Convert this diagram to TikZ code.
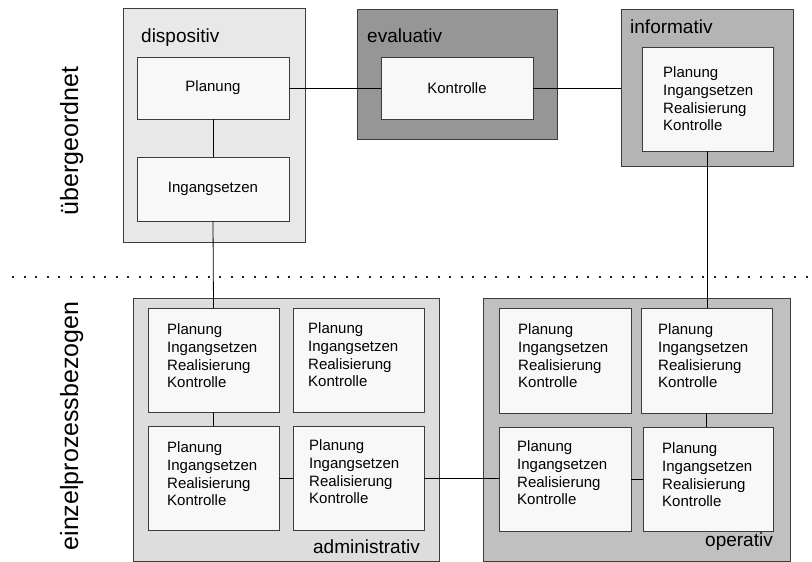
\documentclass[tikz,border=0pt]{standalone}
\usepackage{fontspec}
\setmainfont{Liberation Sans}
\definecolor{edge}{HTML}{3C3C3C}
\definecolor{dotcol}{HTML}{222222}
\definecolor{fillDisp}{HTML}{E8E8E8}
\definecolor{fillEval}{HTML}{969696}
\definecolor{fillInf}{HTML}{B4B4B4}
\definecolor{fillAdm}{HTML}{DDDDDD}
\definecolor{fillOp}{HTML}{C0C0C0}
\definecolor{fillInner}{HTML}{F8F8F8}
\tikzset{
  frame/.style={draw=edge, line width=0.9pt, inner sep=0pt, outer sep=0pt},
  group/.style={frame, fill=#1},
  cell/.style={frame, fill=fillInner},
  grouplabel/.style={font=\fontsize{19}{22}\selectfont, inner sep=0pt},
  sidelabel/.style={font=\fontsize{25}{28}\selectfont, inner sep=0pt, rotate=90, anchor=base},
  steps/.style={font=\fontsize{15}{17.7}\selectfont, align=left, inner sep=0pt, anchor=west},
  single/.style={font=\fontsize{15}{17.7}\selectfont, inner sep=0pt},
  link/.style={draw=black, line width=0.8pt},
}
% \placebox{name}{style}{x1}{y1}{x2}{y2}
\newcommand{\placebox}[6]{%
  \node[#2, minimum width={(#5-#3)*1pt}, minimum height={(#6-#4)*1pt}]
    (#1) at ({(#3+#5)/2},{(#4+#6)/2}) {};}
\newcommand{\fourphases}{Planung\\Ingangsetzen\\Realisierung\\Kontrolle}
\begin{document}
\begin{tikzpicture}[x=1pt,y=-1pt]
\useasboundingbox (0,0) rectangle (812,562);
\fill[white] (0,0) rectangle (812,562);

% level separator
\coordinate (sepL) at (12,276.5);
\coordinate (sepR) at (812,276.5);
\draw[dotcol, line width=2pt, dash pattern=on 2pt off 9.5pt] (sepL) -- (sepR);

% side labels
\node[sidelabel] (lblTop) at (78,141) {übergeordnet};
\node[sidelabel] (lblBot) at (78,426) {einzelprozessbezogen};

% group frames
\placebox{disp}{group=fillDisp}{123}{8}{305}{242}
\placebox{eval}{group=fillEval}{357}{9}{557}{139}
\placebox{inf}{group=fillInf}{621}{9}{793}{166}
\placebox{adm}{group=fillAdm}{133}{298}{439}{561}
\placebox{op}{group=fillOp}{483}{298}{790}{561}

\node[grouplabel, anchor=base west] (tDisp) at (141,42) {dispositiv};
\node[grouplabel, anchor=base west] (tEval) at (367,42) {evaluativ};
\node[grouplabel, anchor=base west] (tInf) at (630,33) {informativ};
\node[grouplabel, anchor=base east] (tAdm) at (420,553) {administrativ};
\node[grouplabel, anchor=base east] (tOp) at (773,546) {operativ};

% cells
\placebox{dPlan}{cell}{137}{57}{289}{119}
\placebox{dIng}{cell}{137}{157}{289}{221}
\placebox{eKon}{cell}{381}{57}{533}{119}
\placebox{iBox}{cell}{642}{47}{773}{151}
\placebox{aTL}{cell}{148}{308}{279}{412}
\placebox{aTR}{cell}{293}{308}{424}{412}
\placebox{aBL}{cell}{148}{426}{279}{530}
\placebox{aBR}{cell}{293}{426}{424}{530}
\placebox{oTL}{cell}{499}{308}{631}{413}
\placebox{oTR}{cell}{641}{308}{772}{413}
\placebox{oBL}{cell}{499}{427}{631}{531}
\placebox{oBR}{cell}{643}{427}{773}{531}

% cell texts
\node[single] (xPlan) at (dPlan) {Planung};
\node[single] (xIng) at (dIng) {Ingangsetzen};
\node[single] (xKon) at (eKon) {Kontrolle};
\node[steps] (xInf) at (663,99) {\fourphases};
\node[steps] (xaTL) at (167,356) {\fourphases};
\node[steps] (xaTR) at (308,355) {\fourphases};
\node[steps] (xaBL) at (167,474) {\fourphases};
\node[steps] (xaBR) at (309,472) {\fourphases};
\node[steps] (xoTL) at (518,356) {\fourphases};
\node[steps] (xoTR) at (658,356) {\fourphases};
\node[steps] (xoBL) at (517,473) {\fourphases};
\node[steps] (xoBR) at (662,475) {\fourphases};

% connectors
\draw[link] (dPlan.east) -- (eKon.west);
\draw[link] (eKon.east) -- (eKon.east -| inf.west);
\draw[link] (dPlan.south) -- (dIng.north);
\draw[link] (dIng.south) -- (aTL.north);
\draw[link] (aTL.south) -- (aBL.north);
\draw[link] (aBL.east) -- (aBR.west);
\draw[link] (aBR.east) -- (oBL.west |- aBR.east);
\draw[link] (oBL.east) -- (oBR.west |- oBL.east);
\draw[link] (iBox.south) -- (oTR.north -| iBox.south);
\draw[link] (oTR.south) -- (oBR.north -| oTR.south);
\end{tikzpicture}
\end{document}
